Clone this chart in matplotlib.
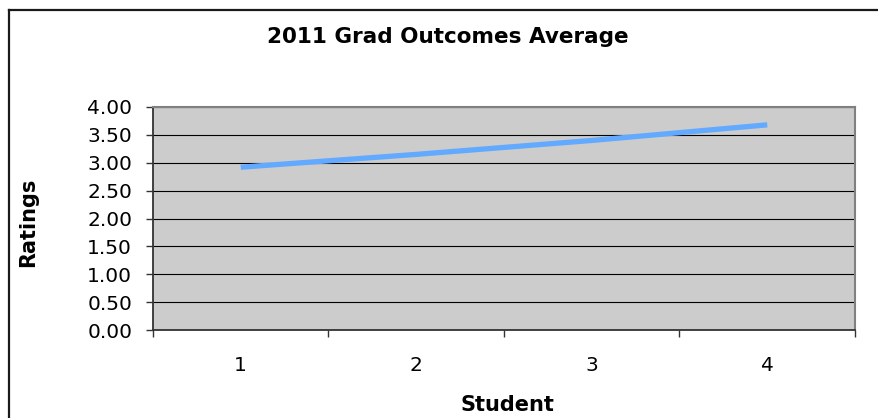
import numpy as np
import matplotlib.pyplot as plt
from matplotlib.lines import Line2D


students = [1, 2, 3, 4]
ratings = [2.92, 3.15, 3.40, 3.68]
yticks = np.arange(0, 4.01, 0.5)

W, H = 879, 418
fig = plt.figure(figsize=(W / 100, H / 100), dpi=100)
fig.patch.set_facecolor('white')

# outer chart border (top and left only visible in the crop)
fig.add_artist(Line2D([8.5 / W, 8.5 / W], [0, 1 - 9.5 / H], transform=fig.transFigure, color='#1a1a1a', lw=1.6))
fig.add_artist(Line2D([8.5 / W, 1], [1 - 9.5 / H, 1 - 9.5 / H], transform=fig.transFigure, color='#1a1a1a', lw=1.6))

ax = fig.add_axes([153 / W, (H - 330) / H, 702 / W, 223 / H])
ax.set_facecolor('#CCCCCC')
ax.plot(students, ratings, color='#62AAFF', lw=3.8, solid_capstyle='butt', zorder=3)

ax.set_xlim(0.5, 4.5)
ax.set_ylim(0, 4)
ax.set_yticks(yticks)
ax.set_yticklabels(['%.2f' % v for v in yticks])
ax.yaxis.grid(True, color='black', lw=0.8)
ax.set_axisbelow(True)

ax.set_xticks([0.5, 1.5, 2.5, 3.5, 4.5])
ax.set_xticklabels([])
ax.set_xticks(students, minor=True)
ax.set_xticklabels([str(s) for s in students], minor=True)
ax.tick_params(axis='x', which='major', direction='out', length=5, width=1, color='#333333')
ax.tick_params(axis='x', which='minor', length=0, pad=19, labelsize=14.5)
ax.tick_params(axis='y', direction='out', length=5, width=1, color='#333333', pad=10, labelsize=14.5)

for s in ['top', 'right']:
    ax.spines[s].set_color('#808080')
    ax.spines[s].set_linewidth(1.5)
for s in ['left', 'bottom']:
    ax.spines[s].set_color('#333333')
    ax.spines[s].set_linewidth(1.3)

fig.text(448 / W, 1 - 37 / H, '2011 Grad Outcomes Average', ha='center', va='center', fontsize=15.5, fontweight='bold')
fig.text(507 / W, 1 - 405 / H, 'Student', ha='center', va='center', fontsize=15, fontweight='bold')
fig.text(28 / W, 1 - 222 / H, 'Ratings', ha='center', va='center', rotation=90, fontsize=15, fontweight='bold')

plt.savefig('out.png', dpi=100)
